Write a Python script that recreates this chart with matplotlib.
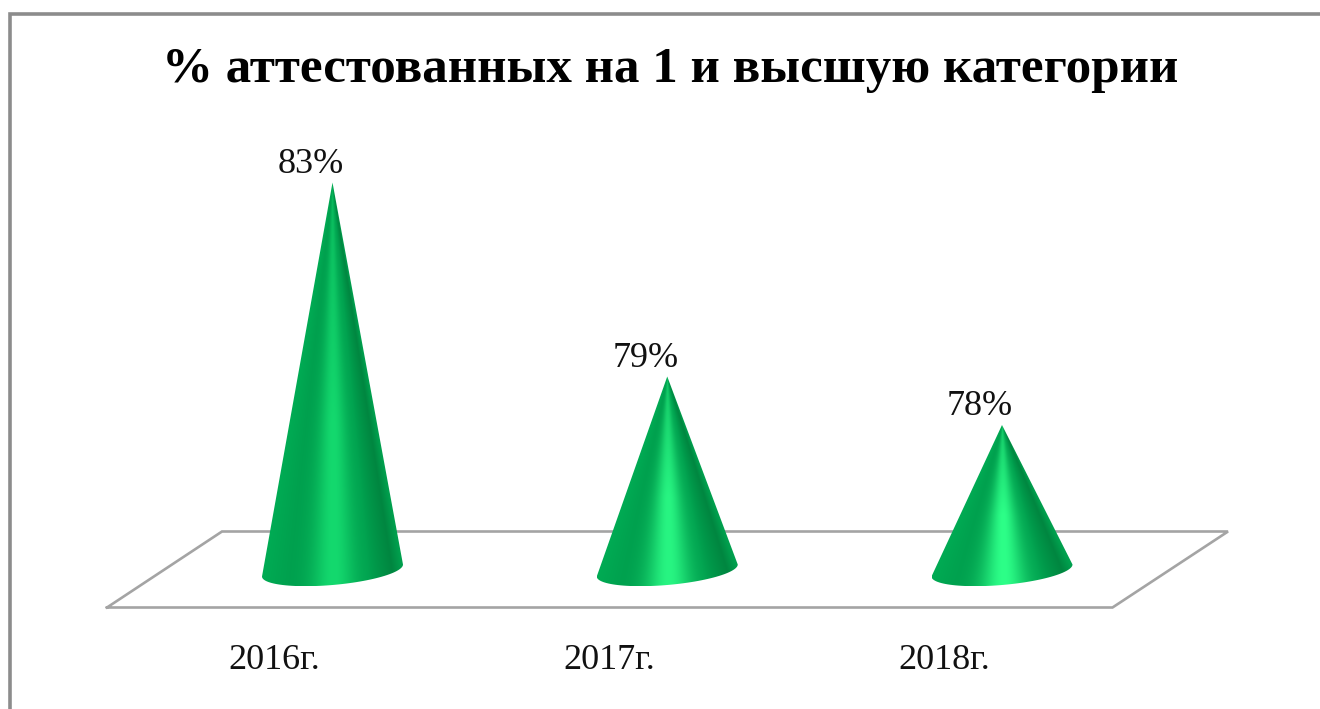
import numpy as np
import matplotlib
matplotlib.use("Agg")
from matplotlib import pyplot as plt
from matplotlib.patches import PathPatch, Rectangle
from matplotlib.path import Path

plt.rcParams["font.family"] = ["Liberation Serif", "DejaVu Serif"]

title = "% аттестованных на 1 и высшую категории"
years = ["2016г.", "2017г.", "2018г."]
values = [83, 79, 78]
value_labels = ["83%", "79%", "78%"]

W, H = 1320, 709
BASE_VALUE = 75

fig = plt.figure(figsize=(W / 100, H / 100), dpi=100, facecolor="white")

# full figure axes, x is category position, y is the value
px_per_cat = 334.75
px_per_val = 48.5
x0_px = 332.5
y0_px = 570.5
ax = fig.add_axes([0, 0, 1, 1])


def set_limits():
    ax.set_xlim(-x0_px / px_per_cat, (W - x0_px) / px_per_cat)
    ax.set_ylim(BASE_VALUE - (H - y0_px) / px_per_val, BASE_VALUE + y0_px / px_per_val)


set_limits()
ax.axis("off")


def to_x(p):
    return (p - x0_px) / px_per_cat


def to_y(p):
    return BASE_VALUE + (y0_px - p) / px_per_val


# outer frame
fig.add_artist(Rectangle((10.5 / W, -0.02), 1.1, 1 - 14.5 / H + 0.02, transform=fig.transFigure,
                         fill=False, edgecolor="#8c8c8c", linewidth=2.6))

# floor
floor_x = [to_x(p) for p in [107, 222, 1228, 1112.5, 107]]
floor_y = [to_y(p) for p in [607.5, 531.5, 531.5, 607.5, 607.5]]
ax.plot(floor_x, floor_y, color="#a4a4a4", linewidth=1.9, solid_joinstyle="miter", zorder=1)

half = 70.5 / px_per_cat
tilt = 6 / px_per_val
drop = 14.5 / px_per_val
highlights = [(20, 217, 110), (40, 245, 130), (45, 255, 136)]
t = np.linspace(0, np.pi, 60)

# shading across the cone: u runs -1 (left edge) to 1 (right edge)
shade_u = [-1, -0.6, 0.5, 0.85, 1]
shade_r = [0, 0, 0, 0, 0]
shade_g = [172, 160, 160, 134, 160]
shade_b = [84, 78, 78, 64, 78]


def cone_image(i, v, low):
    gx = np.linspace(i - half, i + half, 300)
    gy = np.linspace(low, v, 500)
    xx, yy = np.meshgrid(gx, gy)
    h = (v - yy) / (v - BASE_VALUE)
    u = (xx - i) / (half * np.clip(h, 0.02, None))
    base = np.dstack([np.interp(u, shade_u, s) for s in (shade_r, shade_g, shade_b)])
    glow = np.exp(-((u - 0.02) / 0.3) ** 2) * (0.45 + 0.55 * np.clip(h * 1.6, 0, 1))
    top = np.array(highlights[i], dtype=float)
    return (base + (top - base) * glow[..., None]) / 255


for i, v in enumerate(values):
    # bottom edge is half of a tilted ellipse
    ex = i + half * np.cos(t)
    ey = BASE_VALUE + tilt * np.cos(t) - drop * np.sin(t)
    vx = np.r_[i, ex, i]
    vy = np.r_[v, ey, v]
    codes = [Path.MOVETO] + [Path.LINETO] * (len(vx) - 2) + [Path.CLOSEPOLY]
    patch = PathPatch(Path(np.c_[vx, vy], codes), facecolor="none", edgecolor="none")
    ax.add_patch(patch)
    low = vy.min()
    im = ax.imshow(cone_image(i, v, low), aspect="auto", origin="lower",
                   extent=[i - half, i + half, low, v], zorder=2, interpolation="bilinear")
    im.set_clip_path(patch)
    ax.text(i - 22 / px_per_cat, v + 10 / px_per_val, value_labels[i], ha="center", va="baseline",
            fontsize=26, color="#111111")
    ax.text(i - 58 / px_per_cat, to_y(669), years[i], ha="center", va="baseline", fontsize=26, color="#111111")

# imshow resets the limits
set_limits()

fig.text(670 / W, 1 - 82 / H, title, ha="center", va="baseline", fontsize=36.7, fontweight="bold", color="black")

fig.savefig("out.png", dpi=100)
